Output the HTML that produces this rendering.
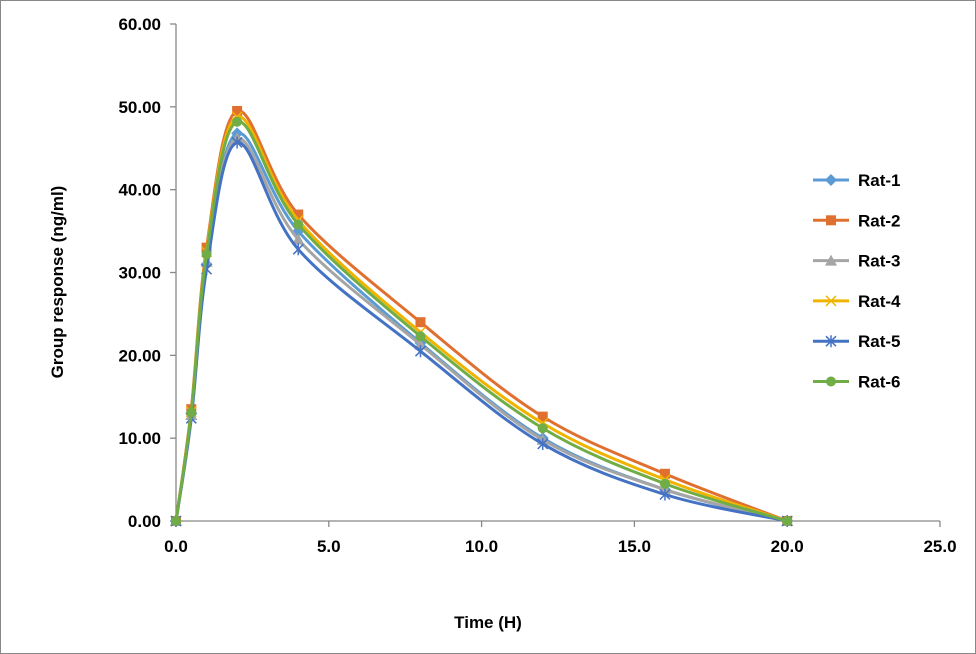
<!DOCTYPE html>
<html><head><meta charset="utf-8"><style>
html,body{margin:0;padding:0;background:#fff}
svg{display:block;font-family:"Liberation Sans",Arial,sans-serif}
</style></head><body>
<svg id="chart" width="976" height="654" viewBox="0 0 976 654">
<rect x="0.5" y="0.5" width="975" height="653" fill="#fff" stroke="#888"/>
<g id="axes"></g><g id="series"></g><g id="legend"></g>
<text x="488" y="628" text-anchor="middle" font-size="17" font-weight="bold">Time (H)</text>
<text transform="translate(63,282) rotate(-90)" text-anchor="middle" font-size="17" font-weight="bold">Group response (ng/ml)</text>
</svg>
<script>
const times=[0,0.5,1,2,4,8,12,16,20];
const seriesNames=["Rat-1","Rat-2","Rat-3","Rat-4","Rat-5","Rat-6"];
const rat1=[0,13.0,31.0,46.8,35.0,21.5,10.0,3.8,0];
const rat2=[0,13.5,33.0,49.5,37.0,24.0,12.6,5.7,0];
const rat3=[0,12.8,31.3,46.2,34.0,21.3,9.8,3.8,0];
const rat4=[0,13.2,32.5,48.8,36.3,22.8,11.8,5.0,0];
const rat5=[0,12.4,30.4,45.7,32.8,20.5,9.3,3.2,0];
const rat6=[0,13.1,32.2,48.2,35.8,22.3,11.2,4.5,0];
const xTicks=[0,5,10,15,20,25];
const yTicks=[0,10,20,30,40,50,60];
const colors=["#5B9BD5","#E07030","#A5A5A5","#F0B400","#4472C4","#70AD47"];
const markers=["diamond","square","triangle","x","star","circle"];
const data=[rat1,rat2,rat3,rat4,rat5,rat6];
const L=176,R=940,T=24,B=521,ns="http://www.w3.org/2000/svg";
const xs=v=>L+(v-0)/(25-0)*(R-L);
const ys=v=>B-(v/60)*(B-T);
function mk(tag,attrs,parent){const e=document.createElementNS(ns,tag);for(const k in attrs)e.setAttribute(k,attrs[k]);parent.appendChild(e);return e;}
const ax=document.getElementById('axes');
let a=mk('line',{x1:L,y1:T,x2:L,y2:B,stroke:'#888','stroke-width':1.3},ax);


a=mk('line',{x1:L,y1:B,x2:R,y2:B,stroke:'#888','stroke-width':1.3},ax);


yTicks.forEach(v=>{const y=ys(v);mk('line',{x1:L-6,y1:y,x2:L,y2:y,stroke:'#888','stroke-width':1.3},ax);
const t=mk('text',{x:161,y:y+6,'text-anchor':'end','font-size':17,'font-weight':'bold'},ax);t.textContent=v.toFixed(2);

});
xTicks.forEach(v=>{const x=xs(v);mk('line',{x1:x,y1:B,x2:x,y2:B+6,stroke:'#888','stroke-width':1.3},ax);
const t=mk('text',{x:x,y:552,'text-anchor':'middle','font-size':17,'font-weight':'bold'},ax);t.textContent=v.toFixed(1);

});
function pathFor(vals){const p=vals.map((v,i)=>[xs(times[i]),ys(v)]);let d='M'+p[0][0]+','+p[0][1];
for(let i=0;i<p.length-1;i++){const p0=p[Math.max(i-1,0)],p1=p[i],p2=p[i+1],p3=p[Math.min(i+2,p.length-1)];
const c1=[p1[0]+(p2[0]-p0[0])/6,p1[1]+(p2[1]-p0[1])/6],c2=[p2[0]-(p3[0]-p1[0])/6,p2[1]-(p3[1]-p1[1])/6];
d+=' C'+c1+' '+c2+' '+p2;}return d;}
function marker(g,type,x,y,c){
if(type==='diamond')mk('polygon',{points:`${x},${y-6} ${x+6},${y} ${x},${y+6} ${x-6},${y}`,fill:c},g);
else if(type==='square')mk('rect',{x:x-5,y:y-5,width:10,height:10,fill:c},g);
else if(type==='triangle')mk('polygon',{points:`${x},${y-6} ${x+6},${y+5} ${x-6},${y+5}`,fill:c},g);
else if(type==='x'){mk('path',{d:`M${x-5},${y-5}L${x+5},${y+5}M${x-5},${y+5}L${x+5},${y-5}`,stroke:c,'stroke-width':1.5},g);}
else if(type==='star'){mk('path',{d:`M${x-5},${y-5}L${x+5},${y+5}M${x-5},${y+5}L${x+5},${y-5}M${x},${y-6}L${x},${y+6}`,stroke:c,'stroke-width':1.5},g);}
else mk('circle',{cx:x,cy:y,r:5,fill:c},g);}
const sg=document.getElementById('series'),lg=document.getElementById('legend');
data.forEach((vals,s)=>{const g=mk('g',{},sg);


mk('path',{d:pathFor(vals),fill:'none',stroke:colors[s],'stroke-width':3},g);
vals.forEach((v,i)=>marker(g,markers[s],xs(times[i]),ys(v),colors[s]));
const ly=180+s*40.3;const lgi=mk('g',{},lg);


mk('line',{x1:813,y1:ly,x2:849,y2:ly,stroke:colors[s],'stroke-width':3},lgi);
marker(lgi,markers[s],831,ly,colors[s]);
const t=mk('text',{x:858,y:ly+6,'font-size':17,'font-weight':'bold'},lgi);t.textContent=seriesNames[s];});
</script>
</body></html>
